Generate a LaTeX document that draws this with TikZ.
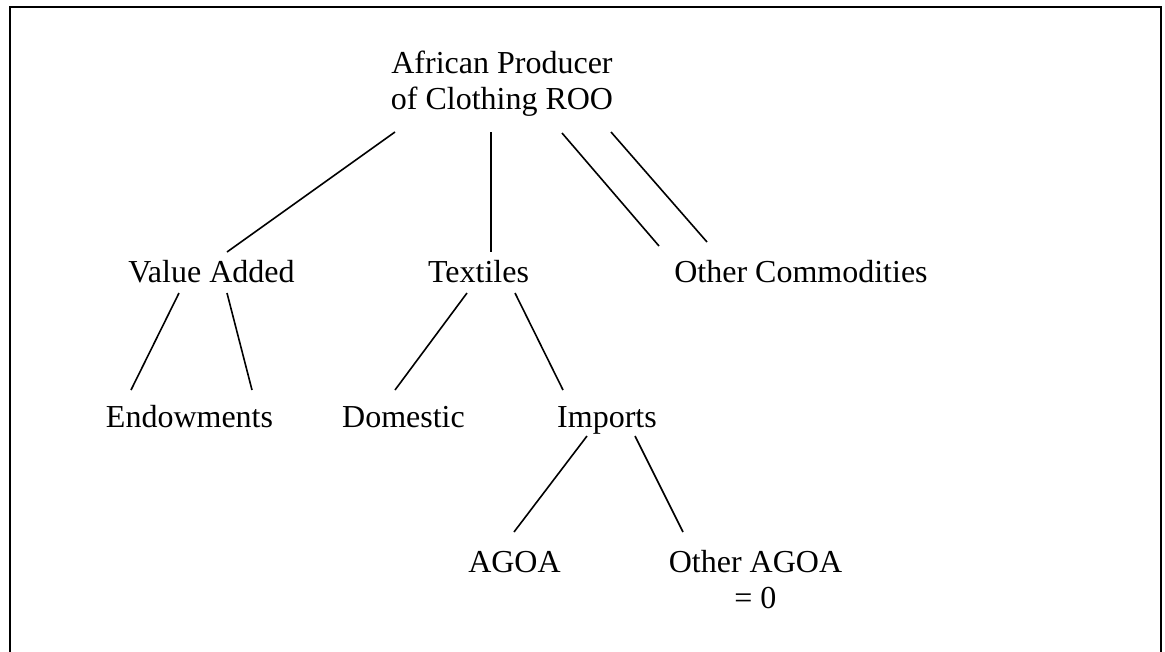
\documentclass[tikz,border=0pt]{standalone}
\usepackage{fontspec}
\setmainfont{Liberation Serif}
\begin{document}
\begin{tikzpicture}[x=1pt,y=-1pt,
  lbl/.style={font=\fontsize{32}{36}\selectfont, inner sep=0pt, anchor=base, align=center},
  conn/.style={line width=1.6pt},
  frame/.style={line width=2.5pt}]
\useasboundingbox (0,0) rectangle (1165,651);
\clip (0,0) rectangle (1165,651);
\draw[frame] (10,660) -- (10,7) -- (1161,7) -- (1161,660);
% nodes (base anchor = baseline of the last line)
\node[lbl] (root) at (502,109) {African Producer\\of Clothing ROO};
\node[lbl] (va) at (211.5,282) {Value Added};
\node[lbl] (tex) at (478.5,282) {Textiles};
\node[lbl] (oc) at (801,282) {Other Commodities};
\node[lbl] (endow) at (189.5,427) {Endowments};
\node[lbl] (dom) at (403.5,427) {Domestic};
\node[lbl] (imp) at (607,427) {Imports};
\node[lbl] (agoa) at (514.5,572) {AGOA};
\node[lbl] (oagoa) at (755.5,608) {Other AGOA\\= 0};
% connectors
\draw[conn] ([shift={(-107,23)}]root.base) -- ([shift={(15.5,-30)}]va.base);
\draw[conn] ([shift={(-11,23)}]root.base) -- ([shift={(12.5,-30)}]tex.base);
\draw[conn] ([shift={(60,24)}]root.base) -- ([shift={(-142,-36)}]oc.base);
\draw[conn] ([shift={(109,23)}]root.base) -- ([shift={(-94,-40)}]oc.base);
\draw[conn] ([shift={(-32.5,11)}]va.base) -- ([shift={(-58.5,-37)}]endow.base);
\draw[conn] ([shift={(15.5,11)}]va.base) -- ([shift={(62.5,-37)}]endow.base);
\draw[conn] ([shift={(-11.5,11)}]tex.base) -- ([shift={(-8.5,-37)}]dom.base);
\draw[conn] ([shift={(36.5,11)}]tex.base) -- ([shift={(-44,-37)}]imp.base);
\draw[conn] ([shift={(-20,9)}]imp.base) -- ([shift={(-0.5,-40)}]agoa.base);
\draw[conn] ([shift={(28,9)}]imp.base) -- ([shift={(-72.5,-76)}]oagoa.base);
\end{tikzpicture}
\end{document}
